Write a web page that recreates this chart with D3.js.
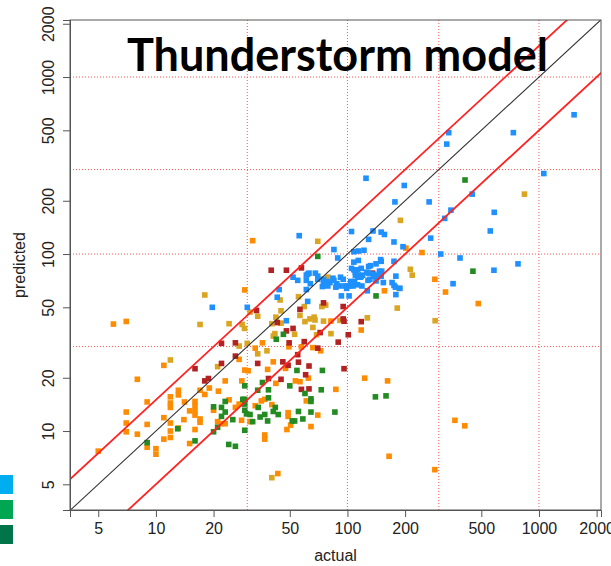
<!DOCTYPE html>
<html>
<head>
<meta charset="utf-8">
<script src="https://cdn.jsdelivr.net/npm/d3@7/dist/d3.min.js"></script>
<style>
  body { margin: 0; background: #fff; }
  svg { display: block; }
</style>
</head>
<body>
<script>
// --- data: [actual, predicted] per group ---
var blueObs = [[1525,612],[735,485],[338,485],[330,418],[1060,285],[198,244],[448,218],[177,197],[267,197],
  [347,177],[584,172],[322,159],[557,135],[150,133],[156,129],[272,123],[175,117],[195,110],[307,100],[387,95],
  [777,88],[582,81],[356,68],[125,268],[56,127],[105,134],[136,135],[129,121],[175,91],[150,91],[151,80],[179,75],
  [85,106],[89,95],[108,103],[114,104],[122,105],[108,90],[114,92],[129,85],[141,88],[149,93],[188,64],[44,63],
  [43,57],[61,63],[62,54],[64,68],[93,58],[102,58],[127,62],[179,59],[30,50],[19.7,50],[48,42],
  [68,78],[62,77],[55,71],[52,74],[61,71],[70,75],[75,68],[74,65.5],[79,66],[84,73],[88,68],[92,74],[95,72],
  [87,65],[91,66],[97,66],[100,66],[104,68],[107,66],[113,67],[119,66],[108,81.5],[113,81.5],[110,76],[113,74],
  [120,76],[129,78],[137,77],[143,74.5],[147,80],[141,70.5],[148,75],[128,71],[171,69],[175,66.5],[178,65],
  [61,76],[63,78],[70,72],[75,72],[78,70],[81,69],[85,71],[105,83],[110,81],[118,83],[131,72],[137,75],[150,75],
  [154,69],[103,66],[109,70],[117,74],[110,79],[114,76],[118,75],[126,79],[132,86],[146,76],[104,70],[99,64]];
var greenObs = [[411,262],[452,80],[70,97],[141,58],[42.5,33],[46.3,35.2],[54.5,22],[74,22],[36,18.8],[50,18],
  [60,16.3],[73,17.1],[38.7,17.1],[34,17],[38.7,15.4],[64.5,15.2],[64.5,14.7],[34.2,13.6],[42,13.6],[41,12.9],
  [43.5,12.4],[37,12.4],[35,12],[38.3,11.4],[55.5,12.9],[64.5,12.8],[86,12.8],[51.5,11.4],[53,11.4],[58.5,11.7],
  [140,15.6],[159,15.8],[29.1,18],[20,13.7],[23,14.7],[28.4,15.1],[29.1,15.1],[29.1,14.2],[29.1,13.1],[29.7,12.5],
  [22,13.6],[23,12.8],[22,12.1],[25.2,11.6],[31,12.4],[32,11.3],[20,9.9],[21,10.5],[29.1,10.1],[13,10.3],[9,8.6],
  [16,8.8],[24,8.4],[26,8.2]];
var redObs = [[22,31.3],[26,31.5],[26,26.5],[16,22.5],[22,24.1],[18,19.2],[18.8,19.8],[43,41],[52,38],[48,36.8],
  [96,41.7],[118,41.5],[72,36],[101,35],[49.6,31.5],[59.5,32],[89.5,31.8],[70,29.4],[55,27],[34,24.1],[46,24.6],
  [55.5,24.5],[49,23.5],[63,23.3],[96,22.5],[60.5,20.8],[38.7,19.8],[45,19.6],[57.5,17.2],[63,17.3],[40,81],
  [48,81],[57.5,83.5],[135,78],[142,74],[75,53],[56.5,48.7],[95,50.5],[33.5,48],[95,43]];
var goldObs = [[840,218],[189,155],[70,118],[213,82],[218,76],[287,42],[186,64],[182,49.5],[79,74],[18,58.7],
  [44.5,55],[55.5,57.4],[59.5,50.5],[73.5,50.5],[77,51.5],[31,47],[34,44.5],[45,47.8],[56.5,45],[63.7,43],[67,44],
  [42.3,44],[60,41.5],[75,41.8],[91.4,42.2],[127,43.6],[17,40],[24.1,40.4],[28.2,40],[40.3,40.4],[45,40.7],
  [66,38.5],[67.7,42.4],[29,38],[27.2,30.2],[30,31.3],[11.9,25.2],[34,27.3],[21,23.1],[41.8,35.5],[41,34.4],
  [53,35.2],[69,35],[82,35.5],[38,28.4],[40.3,5.45]];
var orangeObs = [[245,102],[202,108],[286,72],[325,61],[482,52.5],[364,11.5],[410,10.7],[286,6.05],[165,7.2],
  [123,19.9],[162,19.2],[156,62],[32,119],[29.1,62.7],[82,41.8],[118,37.2],[36,31.5],[33,29.4],[57.5,29.9],
  [66,29.6],[72.5,28.4],[49.5,29.9],[41,24.6],[47.5,22.6],[38.3,22.3],[62.5,19.9],[42.3,18.6],[53.5,19.2],
  [56.5,19],[87,17.2],[35.5,14.8],[37,15.1],[40.3,14.1],[61,14.8],[49,12.7],[49,12.1],[70,12.3],[50.5,10.8],
  [48.3,10.2],[64.5,10.6],[37,9.5],[37,9.0],[43.3,5.75],[6.0,40.2],[7.0,41.6],[11,23.5],[27.2,25.4],[29.1,22.1],
  [30.3,21.9],[8.0,19.6],[23,19.2],[28.1,19.2],[19,17.5],[21.2,16.8],[17,17],[18,16.1],[13.1,17],[13.1,16],
  [11.9,15.6],[11.9,14.4],[11.9,13.6],[9.0,14.6],[14.1,14.6],[16,14.7],[16,13.9],[16,13],[16,12.3],[15,13],
  [17,11.7],[17,11.2],[24.1,15],[27.2,14.2],[26,13.6],[33,13.9],[20,13.1],[21,11.3],[22,11],[23,11],[28,11.5],
  [31,11.3],[7.0,12.8],[7.0,11.1],[7.0,9.9],[9.0,10.9],[11,11.9],[11.9,11.1],[8.0,9.6],[11.9,10],[13.1,10.4],
  [16,10.2],[11,9.0],[11.9,9.2],[9.0,8.1],[10,7.95],[10,7.4],[15,8.5],[5.0,7.7],[14,11.6]];

var groups = [
  {pts: orangeObs, color: '#ff8c00'},
  {pts: goldObs, color: '#daa520'},
  {pts: redObs, color: '#b22222'},
  {pts: greenObs, color: '#228b22'},
  {pts: blueObs, color: '#1e90ff'}
];
var tickVals = [5, 10, 20, 50, 100, 200, 500, 1000, 2000];
var gridVals = [30, 100, 300, 1000];
var refLines = [{k: 1, color: '#333', w: 1.1}, {k: 1.5, color: '#ff2222', w: 1.8}, {k: 0.5, color: '#ff2222', w: 1.8}];
var swatches = ['#00aeef', '#00a651', '#00754a'];

var W = 611, H = 566;
var pL = 70, pR = 601, pT = 20, pB = 510;
var sz = 5.6;

var svg = d3.select('body').append('svg')
    .attr('width', W)
    .attr('height', H);

var x = d3.scaleLog().domain([3.56, 2108]).range([pL, pR]);
var y = d3.scaleLog().domain([3.58, 2100]).range([pB, pT]);

svg.append('clipPath').attr('id', 'plotclip')
  .append('rect').attr('x', pL).attr('y', pT).attr('width', pR - pL).attr('height', pB - pT);

// cut-off legend swatches at the far left
svg.selectAll('rect.sw').data(swatches).enter().append('rect')
    .attr('class', 'sw')
    .attr('x', 0)
    .attr('y', function(d, i){ return 475 + i * 25; })
    .attr('width', 13)
    .attr('height', 19)
    .attr('fill', function(d){ return d; });

// dotted red grid
var plot = svg.append('g').attr('clip-path', 'url(#plotclip)');
plot.selectAll('line.gx').data(gridVals).enter().append('line')
    .attr('x1', function(d){ return x(d); }).attr('x2', function(d){ return x(d); })
    .attr('y1', pT).attr('y2', pB)
    .attr('stroke', '#ff5555').attr('stroke-width', 1).attr('stroke-dasharray', '1,2');
plot.selectAll('line.gy').data(gridVals).enter().append('line')
    .attr('y1', function(d){ return y(d); }).attr('y2', function(d){ return y(d); })
    .attr('x1', pL).attr('x2', pR)
    .attr('stroke', '#ff5555').attr('stroke-width', 1).attr('stroke-dasharray', '1,2');

// points
groups.forEach(function(g){
  plot.selectAll(null).data(g.pts).enter().append('rect')
      .attr('x', function(d){ return x(d[0]) - sz / 2; })
      .attr('y', function(d){ return y(d[1]) - sz / 2; })
      .attr('width', sz).attr('height', sz)
      .attr('fill', g.color);
});

// y = k x lines
var lo = 3, hi = 3000;
plot.selectAll('line.ref').data(refLines).enter().append('line')
    .attr('x1', x(lo)).attr('y1', function(d){ return y(lo * d.k); })
    .attr('x2', x(hi)).attr('y2', function(d){ return y(hi * d.k); })
    .attr('stroke', function(d){ return d.color; })
    .attr('stroke-width', function(d){ return d.w; });

// frame
svg.append('rect')
    .attr('x', pL).attr('y', pT).attr('width', pR - pL).attr('height', pB - pT)
    .attr('fill', 'none').attr('stroke', '#555').attr('stroke-width', 1);

// axes
var fmt = d3.format('d');
var xAxis = svg.append('g')
    .attr('transform', 'translate(0,' + pB + ')')
    .call(d3.axisBottom(x).tickValues(tickVals).tickFormat(fmt).tickSize(7).tickPadding(6));
var yAxis = svg.append('g')
    .attr('transform', 'translate(' + pL + ',0)')
    .call(d3.axisLeft(y).tickValues(tickVals).tickFormat(fmt).tickSize(7));

[xAxis, yAxis].forEach(function(a){
  a.select('.domain').attr('stroke', '#555');
  a.selectAll('.tick line').attr('stroke', '#555');
  a.selectAll('.tick text')
      .attr('fill', '#222')
      .style('font-family', '"Liberation Sans", Arial, sans-serif')
      .style('font-size', '16px');
});
yAxis.selectAll('.tick text')
    .attr('transform', 'rotate(-90)')
    .attr('x', 0).attr('y', -16.5).attr('dy', 0)
    .attr('text-anchor', 'middle');

// axis titles
svg.append('text')
    .attr('x', (pL + pR) / 2).attr('y', 561)
    .attr('text-anchor', 'middle')
    .style('font-family', '"Liberation Sans", Arial, sans-serif')
    .style('font-size', '16px').attr('fill', '#222')
    .text('actual');
svg.append('text')
    .attr('transform', 'translate(25,265) rotate(-90)')
    .attr('text-anchor', 'middle')
    .style('font-family', '"Liberation Sans", Arial, sans-serif')
    .style('font-size', '16px').attr('fill', '#222')
    .text('predicted');

// title
svg.append('text')
    .attr('x', 127).attr('y', 71)
    .style('font-family', 'Lato, "Open Sans", sans-serif')
    .style('font-weight', 'bold')
    .style('font-size', '45px')
    .attr('fill', '#000')
    .text('Thunderstorm model');
</script>
</body>
</html>
